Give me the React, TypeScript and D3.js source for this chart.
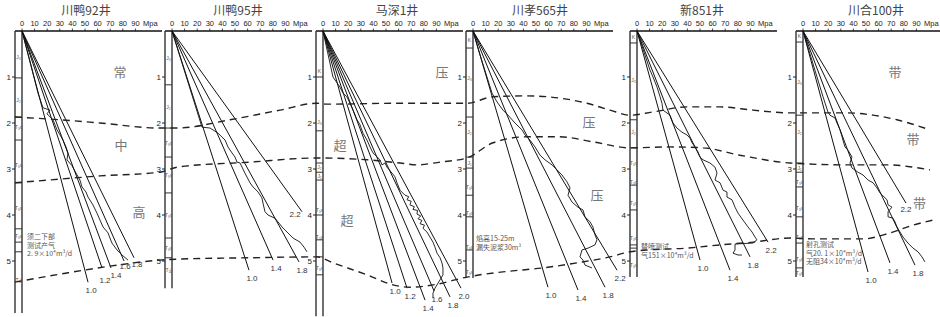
import React from "react";
import * as d3 from "d3";

// ---------------- DATA ----------------
const wellNames = ["川鸭92井", "川鸭95井", "马深1井", "川孝565井", "新851井", "川合100井"];
const pressureTicks = [0, 10, 20, 30, 40, 50, 60, 70, 80, 90];
const depthTicks = [1, 2, 3, 4, 5];

// pressure-coefficient lines: [label, end pressure (MPa), end depth (km)]
const gradCY92: [string, number, number][] = [["1.0", 52.4, 5.46], ["1.2", 63.5, 5.15], ["1.4", 70.6, 5.15], ["1.6", 81.0, 5.0], ["1.8", 88.9, 4.93]];
const gradCY95: [string, number, number][] = [["1.0", 61.1, 5.2], ["1.4", 80.2, 4.98], ["1.8", 100.8, 5.02], ["2.2", 103.2, 3.93]];
const gradMS1: [string, number, number][] = [["1.0", 54.8, 5.48], ["1.2", 66.7, 5.59], ["1.4", 81.0, 5.85], ["1.6", 88.1, 5.65], ["1.8", 100.8, 5.78], ["2.0", 109.5, 5.59]];
const gradCX565: [string, number, number][] = [["1.0", 59.5, 5.57], ["1.4", 83.3, 5.63], ["1.8", 104.8, 5.57], ["2.2", 114.3, 5.2]];
const gradX851: [string, number, number][] = [["1.0", 50.0, 4.98], ["1.4", 73.8, 5.2], ["1.8", 89.7, 4.91], ["2.2", 104.0, 4.59]];
const gradCH100: [string, number, number][] = [["1.0", 51.6, 5.24], ["1.4", 69.0, 5.04], ["1.8", 88.9, 5.09], ["2.2", 81.7, 3.74]];

// measured pressure profiles: [pressure MPa, depth km]
const curveCY92: [number, number][] = [[0, 0], [12.7, 1.35], [16.7, 1.67], [22.2, 1.72], [19.8, 1.8], [24.6, 1.93], [27.8, 2.15], [30.2, 2.26], [32.5, 2.37], [34.9, 2.52], [36.5, 2.65], [35.7, 2.8], [39.7, 2.93], [43.7, 3.13], [46.0, 3.24], [47.6, 3.39], [50.8, 3.5], [52.4, 3.61], [56.3, 3.78], [59.5, 3.96], [61.9, 4.11], [64.3, 4.26], [68.3, 4.39], [69.8, 4.5], [71.4, 4.61], [75.4, 4.76], [79.4, 4.87], [84.1, 4.98]];
const curveCY95: [number, number][] = [[0, 0], [23.8, 2.09], [30.2, 2.11], [36.5, 2.22], [42.1, 2.37], [44.4, 2.52], [47.6, 2.65], [50.0, 2.74], [51.6, 2.85], [54.0, 2.87], [57.9, 3.09], [61.9, 3.3], [64.3, 3.39], [68.3, 3.5], [71.4, 3.63], [72.2, 3.74], [73.8, 3.93], [76.2, 4.0], [81.7, 4.07], [84.1, 4.15], [87.3, 4.26], [91.3, 4.37], [96.0, 4.5], [101.6, 4.59], [104.8, 4.7], [107.1, 4.8]];
const curveMS1: [number, number][] = [[0, 0], [7.9, 1.0], [13.5, 1.22], [15.9, 1.35], [19.0, 1.43], [21.4, 1.57], [23.8, 1.72], [27.0, 1.93], [29.4, 2.04], [31.7, 2.22], [34.9, 2.37], [37.3, 2.52], [39.7, 2.65], [45.2, 2.8], [46.8, 2.91], [49.2, 2.87], [50.8, 2.96], [54.8, 3.09], [57.1, 3.17], [58.7, 3.3], [61.1, 3.46], [65.1, 3.57], [68.0, 3.6], [66.7, 3.67], [70.0, 3.7], [69.0, 3.78], [72.5, 3.82], [71.4, 3.88], [75.0, 3.9], [74.6, 3.98], [77.5, 4.02], [75.4, 4.08], [78.5, 4.12], [77.0, 4.19], [80.5, 4.22], [79.4, 4.29], [82.5, 4.37], [84.9, 4.48], [87.3, 4.59], [88.9, 4.7], [90.5, 4.83], [92.9, 4.93], [94.4, 5.04], [95.2, 5.15], [95.2, 5.3], [92.9, 5.41], [88.9, 5.59], [87.3, 5.7], [87.3, 5.8]];
const curveCX565: [number, number][] = [[0, 0], [5.6, 0.52], [15.1, 1.35], [19.0, 1.54], [23.8, 1.72], [27.8, 1.83], [33.3, 2.0], [38.9, 2.15], [41.3, 2.26], [45.2, 2.37], [49.2, 2.52], [53.2, 2.7], [57.1, 2.8], [62.7, 2.91], [66.7, 3.02], [70.6, 3.13], [74.6, 3.28], [77.0, 3.41], [75.4, 3.57], [78.6, 3.72], [83.3, 3.83], [87.3, 3.89], [88.9, 4.04], [92.9, 4.15], [95.2, 4.26], [96.8, 4.43], [98.4, 4.54], [96.8, 4.65], [91.3, 4.72], [86.5, 4.76], [84.9, 4.91], [87.3, 4.98], [88.9, 5.09], [94.4, 5.15]];
const curveX851: [number, number][] = [[0, 0], [10.3, 0.85], [12.7, 1.0], [15.9, 1.22], [18.3, 1.43], [19.8, 1.57], [20.6, 1.72], [26.2, 1.83], [28.6, 2.0], [31.7, 2.11], [35.7, 2.2], [39.7, 2.26], [42.1, 2.33], [43.7, 2.43], [46.0, 2.52], [48.4, 2.63], [50.0, 2.74], [52.4, 2.8], [57.9, 2.87], [61.9, 2.96], [63.5, 3.09], [61.9, 3.24], [65.9, 3.3], [68.3, 3.46], [71.4, 3.5], [71.4, 3.61], [75.4, 3.67], [77.8, 3.83], [80.2, 3.96], [84.1, 4.11], [88.1, 4.26], [91.3, 4.37], [93.7, 4.48], [95.2, 4.54], [92.1, 4.61], [77.8, 4.63], [77.8, 4.76], [76.2, 4.83], [80.2, 4.87], [83.3, 4.87]];
const curveCH100: [number, number][] = [[0, 0], [15.9, 1.43], [19.8, 1.76], [21.4, 1.83], [25.4, 1.89], [27.0, 2.0], [29.4, 2.15], [31.0, 2.3], [31.7, 2.37], [33.3, 2.52], [35.7, 2.59], [38.9, 2.74], [37.3, 2.87], [38.9, 2.98], [43.7, 3.07], [47.6, 3.13], [51.6, 3.24], [55.6, 3.3], [58.7, 3.41], [61.1, 3.52], [66.7, 3.67], [67.5, 3.78], [70.6, 3.83], [67.5, 3.93], [67.5, 4.04], [71.4, 4.07], [73.0, 4.15], [74.6, 4.26], [77.0, 4.37], [79.4, 4.48], [83.3, 4.61], [87.3, 4.72], [91.3, 4.8], [94.4, 4.91], [96.8, 5.02]];

// stratigraphic columns: bottom depth, divider depths, [depth, label]
const columnBottoms = [6.13, 5.59, 6.2, 5.37, 5.35, 5.35];
const dividersCY92 = [1.02, 1.87, 2.37, 3.3, 4.3, 4.59, 4.8];
const dividersCY95 = [1.17, 2.11, 2.74, 3.52, 4.5, 4.93];
const dividersMS1 = [1.0, 2.17, 2.87, 3.07, 3.24, 4.0, 4.54, 4.91, 5.3];
const dividersCX565 = [0.37, 1.87, 2.74, 2.98, 3.57, 4.04, 4.76];
const dividersX851 = [0.26, 1.93, 2.54, 3.35, 3.89, 4.65, 4.72];
const dividersCH100 = [0.24, 1.83, 2.87, 3.07, 3.39, 4.04, 4.61, 5.15];
const strataCY92: [number, string][] = [[0.57, "J₃"], [1.5, "J₂"], [2.09, "T₃x"], [2.91, "T₃x"], [3.85, "T₃x"], [4.46, "T₃x"], [5.41, "T₁j"]];
const strataCY95: [number, string][] = [[0.59, "J₃"], [1.65, "J₂"], [2.43, "T₃x"], [3.13, "T₃x"], [4.0, "T₃x"], [4.72, "T₃x"], [5.2, "T₁j"]];
const strataMS1: [number, string][] = [[0.87, "K"], [1.98, "J₃"], [2.96, "J₂"], [3.15, "J₁"], [3.9, "T₃x"], [4.48, "T₃x"], [5.15, "T₃x"]];
const strataCX565: [number, string][] = [[0.2, "K"], [1.02, "J₃"], [2.2, "J₂"], [2.87, "J₁"], [3.39, "T₃x"], [3.96, "T₃x"], [4.7, "T₃x"], [5.24, "T₃x"]];
const strataX851: [number, string][] = [[0.13, "K"], [1.07, "J₃"], [2.2, "J₂"], [2.87, "T₃x"], [3.28, "T₃x"], [3.74, "T₃x"], [4.5, "T₃x"], [5.09, "T₃x"]];
const strataCH100: [number, string][] = [[0.11, "K"], [1.11, "J₃"], [2.2, "J₂"], [2.97, "J₁"], [3.28, "T₃x"], [3.85, "T₃x"], [4.48, "T₃x"], [4.95, "T₃x"], [5.26, "T₃x"]];

// regional boundary lines: [panel, pressure offset (MPa), depth (km)]
const boundaryUpper: [number, number, number][] = [[0, -5.6, 1.87], [0, 30.2, 1.93], [0, 61.9, 2.0], [0, 109.5, 2.11], [1, 4.0, 2.11], [1, 46.0, 1.93], [1, 85.7, 1.72], [2, -4.8, 1.57], [2, 3.2, 1.59], [2, 61.1, 1.57], [3, -4.8, 1.57], [3, 15.9, 1.43], [3, 42.9, 1.41], [3, 69.0, 1.46], [3, 90.5, 1.57], [3, 108.7, 1.72], [4, -5.6, 1.83], [4, 12.7, 1.76], [4, 39.7, 1.65], [4, 65.9, 1.65], [4, 92.1, 1.72], [5, -10.3, 1.78], [5, 7.9, 1.78], [5, 34.9, 1.78], [5, 55.6, 1.83], [5, 74.6, 1.93], [5, 100.8, 2.15]];
const boundaryMiddle: [number, number, number][] = [[0, -5.6, 3.3], [0, 30.2, 3.22], [0, 61.9, 3.15], [0, 109.5, 3.07], [1, 4.0, 2.96], [1, 61.9, 2.85], [2, -4.8, 2.76], [2, 34.9, 2.8], [2, 61.1, 2.87], [2, 74.6, 2.91], [2, 92.9, 2.85], [3, -4.8, 2.76], [3, 15.9, 2.43], [3, 42.9, 2.3], [3, 69.0, 2.3], [3, 95.2, 2.41], [4, -5.6, 2.54], [4, 26.2, 2.52], [4, 52.4, 2.54], [4, 81.7, 2.7], [5, -10.3, 2.87], [5, 34.9, 2.91], [5, 69.0, 2.91], [5, 87.3, 2.96], [5, 100.8, 3.02]];
const boundaryLower: [number, number, number][] = [[0, -5.6, 5.46], [0, 35.7, 5.26], [0, 75.4, 5.09], [0, 109.5, 4.98], [1, 4.0, 4.96], [1, 61.9, 4.93], [2, -4.8, 4.91], [2, 7.9, 5.04], [2, 34.9, 5.3], [2, 55.6, 5.52], [2, 69.0, 5.57], [2, 87.3, 5.52], [3, -4.8, 5.35], [3, 5.6, 5.3], [3, 29.4, 5.22], [3, 55.6, 5.15], [3, 82.5, 5.04], [3, 108.7, 4.91], [4, -5.6, 4.8], [4, 7.9, 4.76], [4, 39.7, 4.72], [4, 65.9, 4.65], [4, 92.1, 4.59], [5, -10.3, 4.5], [5, 7.9, 4.52], [5, 47.6, 4.52], [5, 69.0, 4.39], [5, 87.3, 4.22], [5, 103.2, 4.11]];

// zone characters: [panel, pressure, depth, text]
const zoneLabels: [number, number, number, string][] = [[0, 77.8, 0.89, "常"], [0, 78.6, 2.48, "中"], [0, 92.9, 3.93, "高"], [2, 94.4, 0.89, "压"], [2, 13.5, 2.48, "超"], [2, 19.0, 4.11, "超"], [3, 92.1, 1.98, "压"], [3, 98.4, 3.57, "压"], [5, 73.0, 0.89, "带"], [5, 87.3, 2.35, "带"], [5, 92.5, 3.74, "带"]];

// test annotations
const noteCY92 = ["须二下部", "测试产气", "2. 9×10⁴m³/d"];
const noteCX565 = ["焰高15-25m", "漏失泥浆30m³"];
const noteX851 = ["替喷测试", "气151×10⁴m³/d"];
const noteCH100 = ["射孔测试", "气20. 1×10⁴m³/d", "无阻34×10⁴m³/d"];
const noteAnchors: [number, number, number][] = [[0, 4.0, 4.46], [3, 2.4, 4.5], [4, 3.2, 4.68], [5, 2.4, 4.63]];

// ---------------- LAYOUT ----------------
const W = 940, H = 317;
const panelX0 = [22, 172, 323, 473, 637, 803];
const titleDx = [64, 66, 74, 67, 65, 73];
const COLW = 7;
const PX_PER_MPA = 1.26;
const labelOffsets: Record<string, [number, number]> = {
  "0-1.2": [3, 15],
  "0-1.4": [5, 10],
  "0-1.6": [1, 8],
  "0-1.8": [3, 9],
  "1-2.2": [-7, 5],
  "5-2.2": [0, 9],
};

const gradients = [gradCY92, gradCY95, gradMS1, gradCX565, gradX851, gradCH100];
const curves = [curveCY92, curveCY95, curveMS1, curveCX565, curveX851, curveCH100];
const dividers = [dividersCY92, dividersCY95, dividersMS1, dividersCX565, dividersX851, dividersCH100];
const strata = [strataCY92, strataCY95, strataMS1, strataCX565, strataX851, strataCH100];
const notes = [noteCY92, noteCX565, noteX851, noteCH100];
const boundaries = [boundaryUpper, boundaryMiddle, boundaryLower];

const yScale = d3.scaleLinear().domain([0, 5]).range([31, 261]);
const xScales = panelX0.map((x0) => d3.scaleLinear().domain([0, 90]).range([x0, x0 + 90 * PX_PER_MPA]));

const FONT = "Arial, 'Liberation Sans', sans-serif";
const CJK = "'Noto Sans CJK SC', sans-serif";

export default function App() {
  const lineGen = (xs: d3.ScaleLinear<number, number>) =>
    d3.line<[number, number]>().x((d) => xs(d[0])).y((d) => yScale(d[1]));
  const boundaryGen = d3
    .line<[number, number, number]>()
    .x((d) => xScales[d[0]](d[1]))
    .y((d) => yScale(d[2]))
    .curve(d3.curveMonotoneX);

  return (
    <svg width={W} height={H} style={{ display: "block", position: "absolute", left: 0, top: 0 }} xmlns="http://www.w3.org/2000/svg">
      <rect width={W} height={H} fill="#fff" />
      {panelX0.map((x0, i) => {
        const xs = xScales[i];
        const colL = x0 - COLW;
        const colBottom = yScale(columnBottoms[i]);
        const axisEnd = x0 + 140;
        return (
          <g key={i}>
            <text x={x0 + titleDx[i]} y={14.5} textAnchor="middle" fontFamily={CJK} fontSize={12} fill="#444">
              {wellNames[i]}
            </text>
            <line x1={colL} x2={axisEnd} y1={31} y2={31} stroke="#111" strokeWidth={1.6} />
            {pressureTicks.map((t) => (
              <g key={t}>
                <line x1={xs(t)} x2={xs(t)} y1={31} y2={28.5} stroke="#111" strokeWidth={0.8} />
                <text x={xs(t)} y={26} textAnchor="middle" fontFamily={FONT} fontSize={7.5} fill="#222">
                  {t}
                </text>
              </g>
            ))}
            <text x={xs(90) + 15} y={26} textAnchor="middle" fontFamily={FONT} fontSize={7.5} fill="#222">
              Mpa
            </text>
            <line x1={colL} x2={colL} y1={31} y2={colBottom} stroke="#333" strokeWidth={1.4} />
            <line x1={x0} x2={x0} y1={31} y2={colBottom} stroke="#333" strokeWidth={1.4} />
            {dividers[i].map((d, k) => (
              <line key={k} x1={colL} x2={x0} y1={yScale(d)} y2={yScale(d)} stroke="#333" strokeWidth={1} />
            ))}
            {strata[i].map(([d, s], k) => (
              <text key={k} x={colL + 3.5} y={yScale(d) + 2} textAnchor="middle" fontFamily={FONT} fontSize={5} fill="#555">
                {s}
              </text>
            ))}
            {depthTicks.map((t) => (
              <g key={t}>
                <line x1={colL - 3} x2={colL} y1={yScale(t)} y2={yScale(t)} stroke="#222" strokeWidth={1} />
                <text x={colL - 4} y={yScale(t) + 3} textAnchor="end" fontFamily={FONT} fontSize={8} fill="#222">
                  {t}
                </text>
              </g>
            ))}
            {gradients[i].map(([lab, p, d]) => {
              const off = labelOffsets[`${i}-${lab}`] || [3, 11];
              return (
                <g key={lab}>
                  <line x1={xs(0)} y1={yScale(0)} x2={xs(p)} y2={yScale(d)} stroke="#111" strokeWidth={1} />
                  <text x={xs(p) + off[0]} y={yScale(d) + off[1]} textAnchor="middle" fontFamily={FONT} fontSize={8} fill="#333">
                    {lab}
                  </text>
                </g>
              );
            })}
            <path d={lineGen(xs)(curves[i]) || ""} fill="none" stroke="#111" strokeWidth={0.9} strokeLinejoin="round" />
          </g>
        );
      })}
      {boundaries.map((b, k) => (
        <path key={k} d={boundaryGen(b) || ""} fill="none" stroke="#222" strokeWidth={1.4} strokeDasharray="7,5" />
      ))}
      {zoneLabels.map(([p, pr, d, s], k) => (
        <text key={k} x={xScales[p](pr)} y={yScale(d) + 5} textAnchor="middle" fontFamily={CJK} fontSize={13} fill="#777">
          {s}
        </text>
      ))}
      {notes.map((lines, k) => {
        const [p, pr, d] = noteAnchors[k];
        return (
          <g key={k}>
            {lines.map((s, j) => (
              <text key={j} x={xScales[p](pr)} y={yScale(d) + 3 + j * 8.6} fontFamily={CJK} fontSize={7} fill="#555">
                {s}
              </text>
            ))}
          </g>
        );
      })}
    </svg>
  );
}
